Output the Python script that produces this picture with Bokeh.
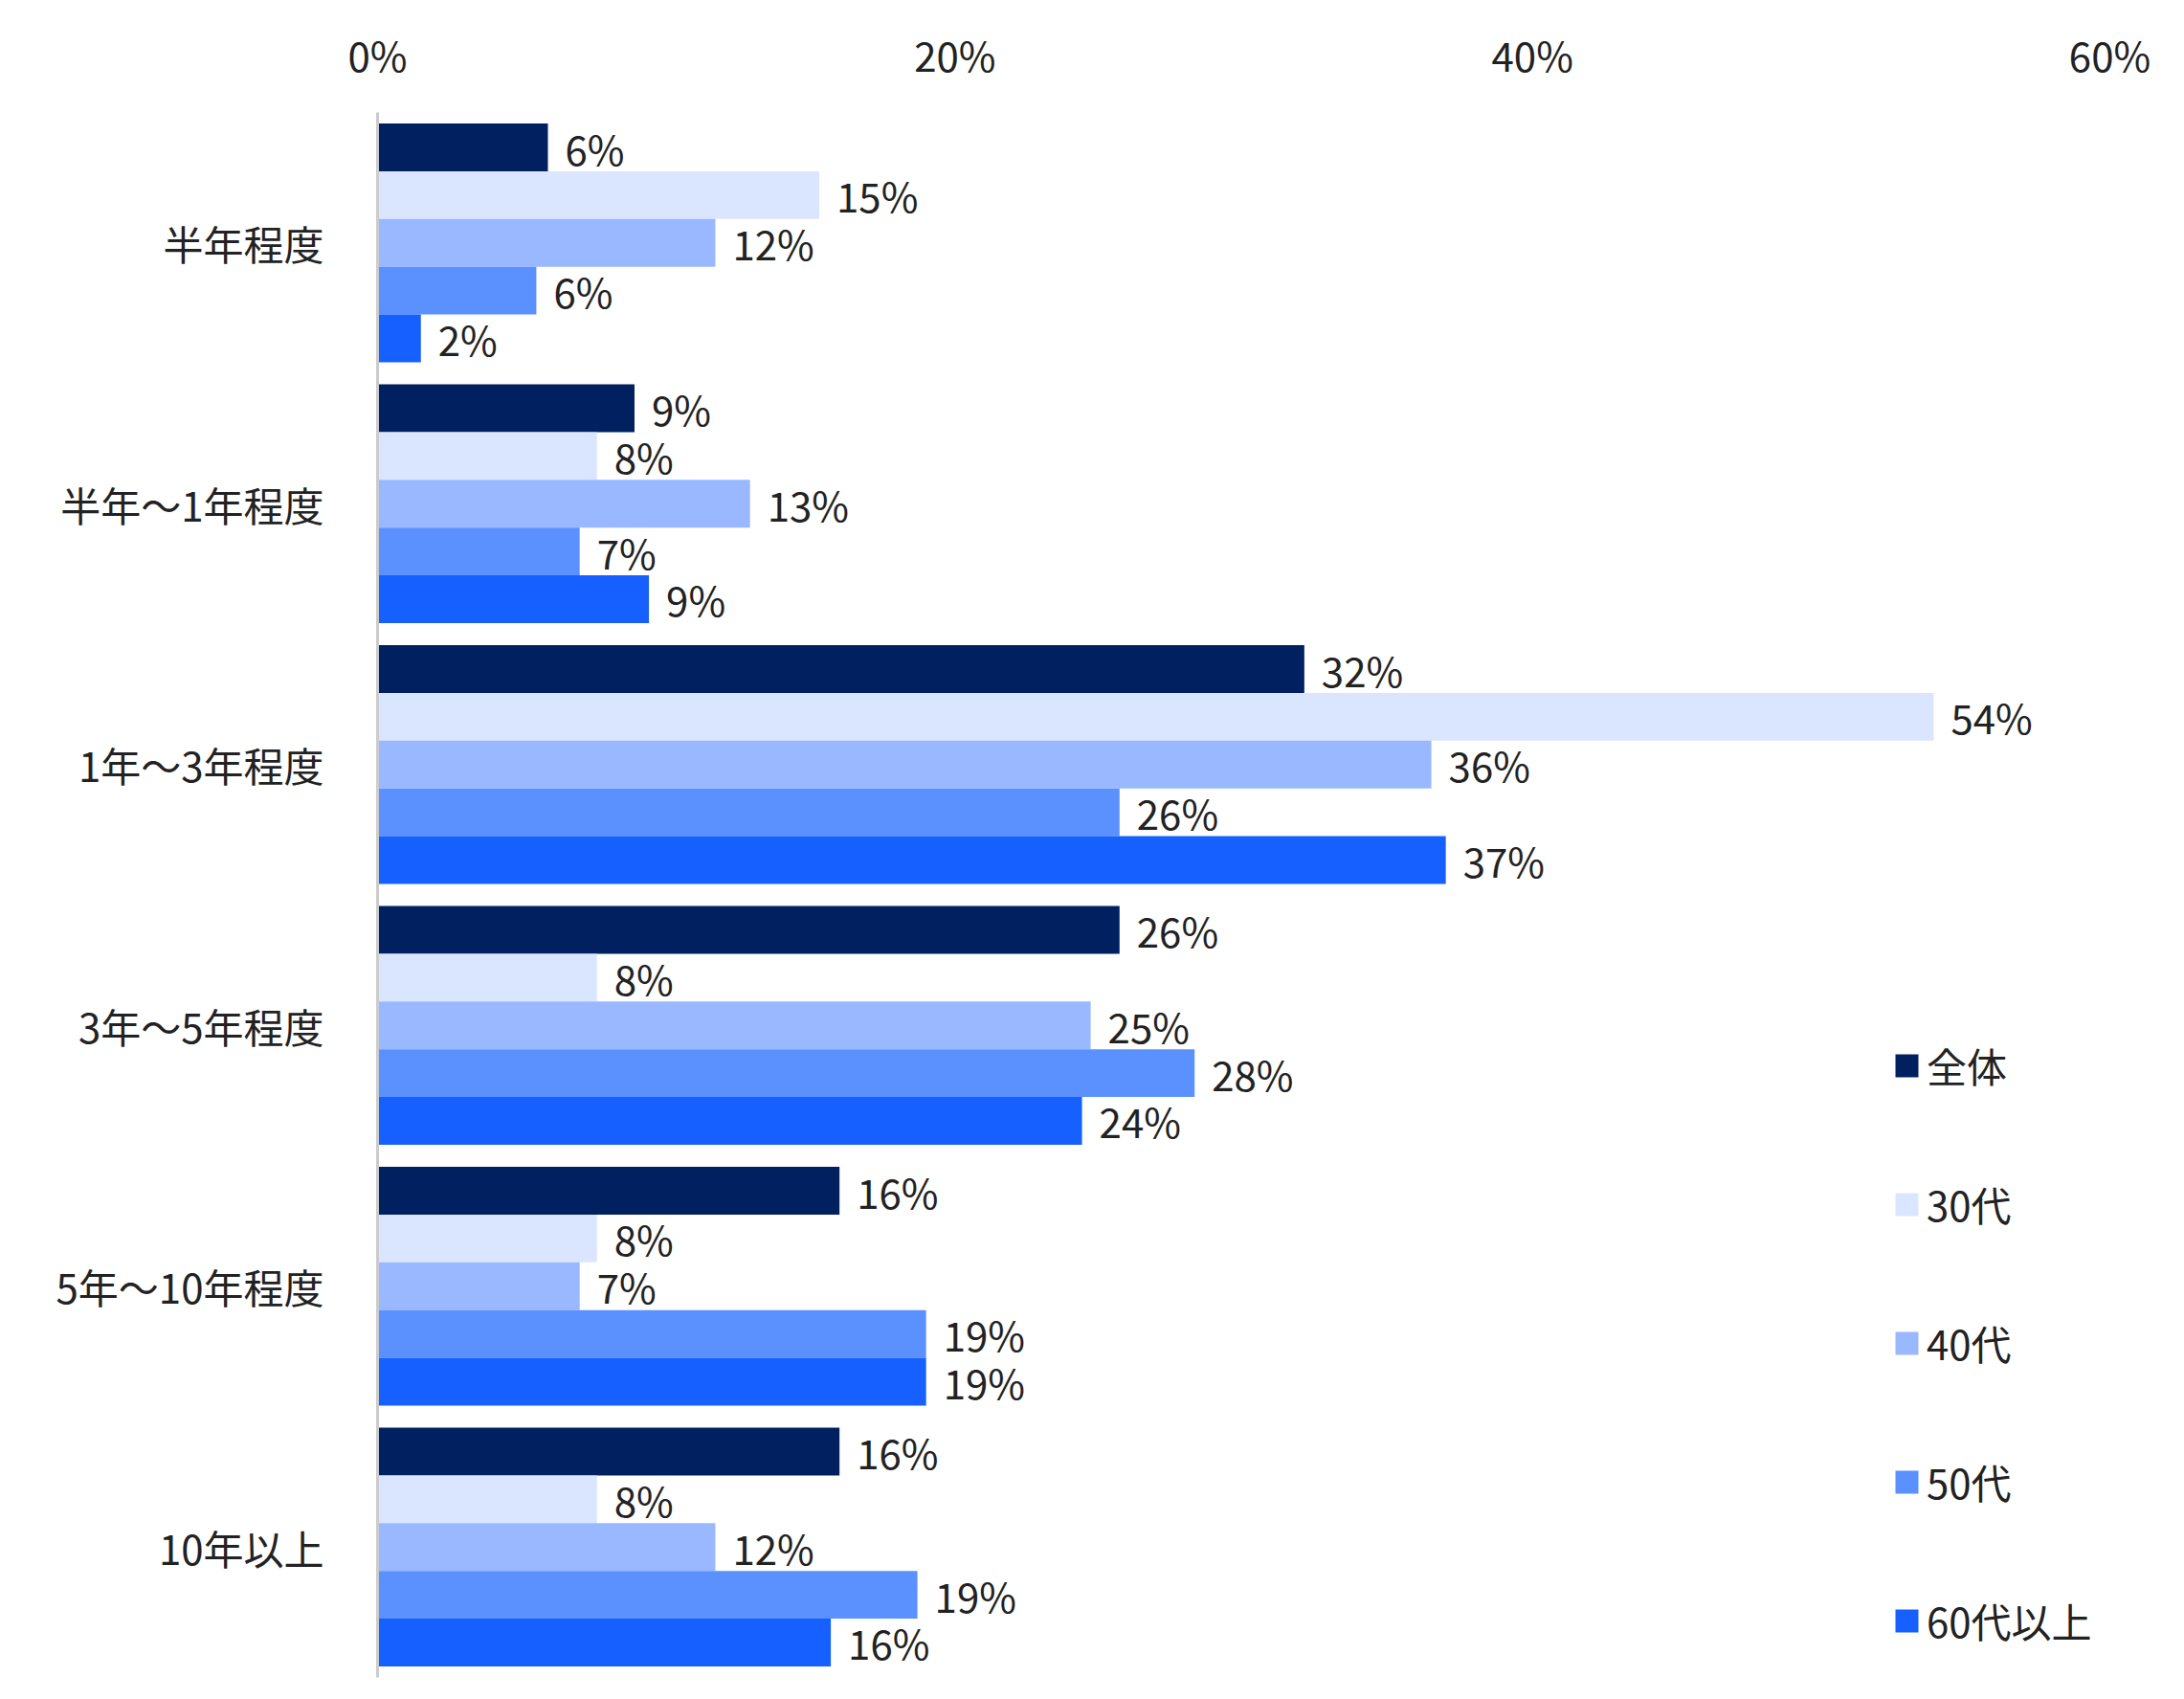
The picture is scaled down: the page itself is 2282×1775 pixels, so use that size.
from bokeh.plotting import figure
from bokeh.models import Range1d, FixedTicker, Legend, LegendItem, ColumnDataSource
from bokeh.core.properties import value
from bokeh.embed import file_html
from bokeh.resources import INLINE

categories = ["半年程度", "半年～1年程度", "1年～3年程度", "3年～5年程度", "5年～10年程度", "10年以上"]
series = ["全体", "30代", "40代", "50代", "60代以上"]
colors = ["#002060", "#DAE6FF", "#99B8FF", "#5B91FF", "#1560FF"]
v_all = [5.9, 8.9, 32.1, 25.7, 16.0, 16.0]
v_30 = [15.3, 7.6, 53.9, 7.6, 7.6, 7.6]
v_40 = [11.7, 12.9, 36.5, 24.7, 7.0, 11.7]
v_50 = [5.5, 7.0, 25.7, 28.3, 19.0, 18.7]
v_60 = [1.5, 9.4, 37.0, 24.4, 19.0, 15.7]
values = [v_all, v_30, v_40, v_50, v_60]
ticks = [0, 20, 40, 60]

FONT = "Noto Sans CJK JP"
FS = "42px"

p = figure(width=2266, height=1759, output_backend="svg", toolbar_location=None,
           x_axis_location="above", x_range=Range1d(0, 60), y_range=Range1d(6, 0),
           min_border_left=394, min_border_right=62, min_border_top=117, min_border_bottom=7)
p.outline_line_color = None
p.xgrid.visible = False
p.ygrid.visible = False

bh = 0.183
items = []
for j, (name, vals, c) in enumerate(zip(series, values, colors)):
    ys = [i + 0.5 + (j - 2) * bh for i in range(len(categories))]
    src = ColumnDataSource(dict(y=ys, v=vals, lab=[f"{round(v)}%" for v in vals]))
    r = p.hbar(y="y", left=0, right="v", height=bh, color=c, line_color=None, source=src)
    p.text(x="v", y="y", text="lab", source=src, x_offset=18, text_baseline="middle",
           text_font=value(FONT), text_font_size=FS, text_color="#222222")
    items.append(LegendItem(label=name, renderers=[r]))

p.xaxis.ticker = FixedTicker(ticks=ticks)
p.xaxis.major_label_overrides = {t: f"{t}%" for t in ticks}
p.xaxis.axis_line_color = None
p.xaxis.major_tick_line_color = None
p.xaxis.minor_tick_line_color = None
p.xaxis.major_label_text_font = FONT
p.xaxis.major_label_text_font_size = FS
p.xaxis.major_label_text_color = "#222222"
p.xaxis.major_label_standoff = 25

p.yaxis.ticker = FixedTicker(ticks=[i + 0.5 for i in range(len(categories))])
p.yaxis.major_label_overrides = {i + 0.5: c for i, c in enumerate(categories)}
p.yaxis.axis_line_color = "#CCCCCC"
p.yaxis.axis_line_width = 3
p.yaxis.major_tick_line_color = None
p.yaxis.minor_tick_line_color = None
p.yaxis.major_label_text_font = FONT
p.yaxis.major_label_text_font_size = FS
p.yaxis.major_label_text_color = "#222222"
p.yaxis.major_label_standoff = 50

legend = Legend(items=items, location=(1583, 29), glyph_width=30, glyph_height=30,
                label_height=30, spacing=84, padding=0, margin=0,
                label_text_font=FONT, label_text_font_size=FS, label_text_color="#222222",
                border_line_color=None, background_fill_alpha=0, label_standoff=6)
p.add_layout(legend)

open("out.html", "w").write(file_html(p, INLINE))
